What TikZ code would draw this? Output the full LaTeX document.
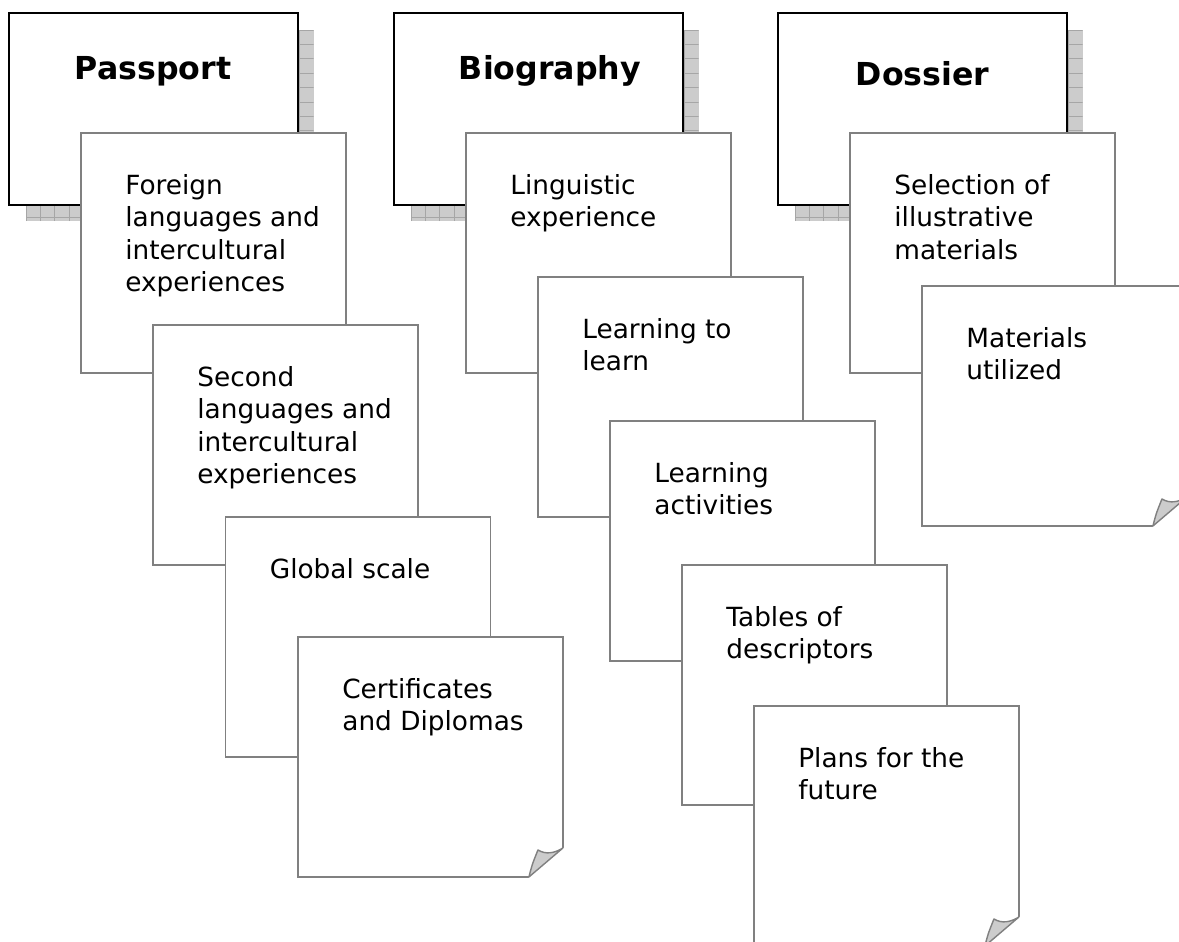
\documentclass[tikz,border=0pt]{standalone}
\usepackage{fontspec}
\setmainfont{DejaVu Sans}
\usetikzlibrary{positioning}

\tikzset{
  headbox/.style={draw=black, line width=1.1pt, fill=white, minimum width=5.79cm, minimum height=3.84cm, anchor=north west, inner sep=0pt, outer sep=0pt},
  headtext/.style={font=\fontsize{18}{21}\selectfont\bfseries, anchor=base},
  shadowfill/.style={fill=gray!40},
  shadowgrid/.style={draw=gray!70, line width=0.4pt, step=0.288cm},
  paper/.style={draw=gray, line width=1pt, fill=white, minimum width=5.3cm, minimum height=4.8cm, anchor=north west, inner sep=0pt, outer sep=0pt},
  papertext/.style={font=\fontsize{15}{18.4}\selectfont, align=left, inner sep=0pt},
  curl/.style={draw=gray, fill=gray!40, line width=0.8pt, line join=round},
}

% turned-up corner at the bottom right of a sheet
\newcommand{\foldcorner}[1]{%
  \fill[white] ([shift={(-34,0)}]#1.south east) -- ([shift={(-34,3)}]#1.south east) -- ([shift={(3,3)}]#1.south east) -- ([shift={(3,-29)}]#1.south east) -- ([shift={(0,-29)}]#1.south east) -- cycle;
  \draw[curl] ([shift={(-34,0)}]#1.south east) .. controls ([shift={(-31,-12)}]#1.south east) .. ([shift={(-25,-27)}]#1.south east) .. controls ([shift={(-17,-22)}]#1.south east) and ([shift={(-8,-24)}]#1.south east) .. ([shift={(0,-29)}]#1.south east) -- cycle;
}

\begin{document}
\begin{tikzpicture}[x=0.02cm, y=-0.02cm]
\useasboundingbox (0,0) rectangle (1179,941);

% grey grid shadows behind the three title cards
\foreach \sx in {26,411,795} {
  \fill[shadowfill] (\sx,30) rectangle ++(287.5,191);
  \begin{scope}[shift={(\sx,30)}]
    \clip (0,0) rectangle (287.5,191);
    \draw[shadowgrid] (0,0) grid (288,191);
  \end{scope}
}

% Passport
\node[headbox] (passport) at (9,13) {};
\node[headtext] (passporttitle) at (153,79) {Passport};

\node[paper] (foreign) at (81,133) {};
\node[papertext, below right=0.82cm and 0.88cm of foreign.north west] (foreigntxt) {Foreign\\languages and\\intercultural\\experiences};
\node[paper] (second) at (153,325) {};
\node[papertext, below right=0.82cm and 0.88cm of second.north west] (secondtxt) {Second\\languages and\\intercultural\\experiences};
\node[paper] (global) at (225.5,517) {};
\node[papertext, below right=0.82cm and 0.88cm of global.north west] (globaltxt) {Global scale};
\node[paper] (certs) at (298,637) {};
\node[papertext, below right=0.82cm and 0.88cm of certs.north west] (certstxt) {Certificates\\and Diplomas};
\foldcorner{certs}

% Biography
\node[headbox] (biography) at (394,13) {};
\node[headtext] (biographytitle) at (550,79) {Biography};

\node[paper] (linguistic) at (466,133) {};
\node[papertext, below right=0.82cm and 0.88cm of linguistic.north west] (linguistictxt) {Linguistic\\experience};
\node[paper] (learning) at (538,277) {};
\node[papertext, below right=0.82cm and 0.88cm of learning.north west] (learningtxt) {Learning to\\learn};
\node[paper] (activities) at (610,421) {};
\node[papertext, below right=0.82cm and 0.88cm of activities.north west] (activitiestxt) {Learning\\activities};
\node[paper] (tables) at (682,565) {};
\node[papertext, below right=0.82cm and 0.88cm of tables.north west] (tablestxt) {Tables of\\descriptors};
\node[paper] (plans) at (754,706) {};
\node[papertext, below right=0.82cm and 0.88cm of plans.north west] (planstxt) {Plans for the\\future};
\foldcorner{plans}

% Dossier
\node[headbox] (dossier) at (778,13) {};
\node[headtext] (dossiertitle) at (922.5,85) {Dossier};

\node[paper] (selection) at (850,133) {};
\node[papertext, below right=0.82cm and 0.88cm of selection.north west] (selectiontxt) {Selection of\\illustrative\\materials};
\node[paper] (materials) at (922,286) {};
\node[papertext, below right=0.82cm and 0.88cm of materials.north west] (materialstxt) {Materials\\utilized};
\foldcorner{materials}

\end{tikzpicture}
\end{document}
